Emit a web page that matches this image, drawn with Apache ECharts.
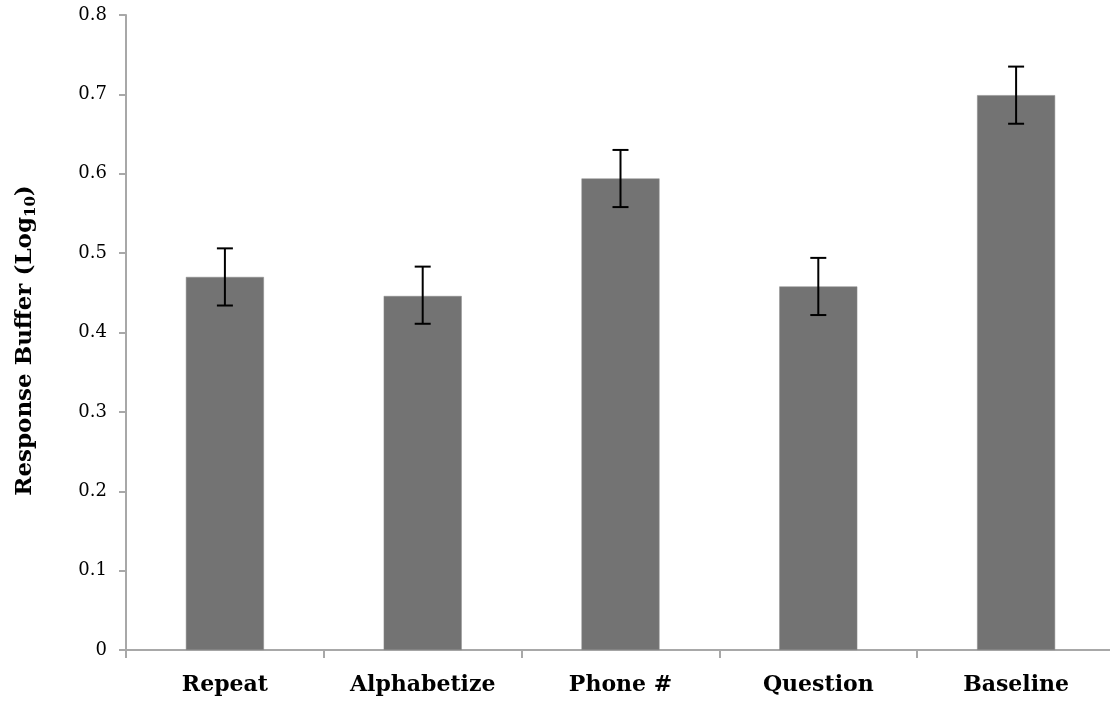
<!DOCTYPE html>
<html>
<head>
<meta charset="utf-8">
<script src="https://cdn.jsdelivr.net/npm/echarts@6/dist/echarts.min.js"></script>
<style>
  html, body { margin: 0; padding: 0; background: #ffffff; }
  #chart { width: 1110px; height: 702px; }
</style>
</head>
<body>
<div id="chart"></div>
<script>
// Task conditions and mean response buffer (log10), with error bar limits
const categories = ['Repeat', 'Alphabetize', 'Phone #', 'Question', 'Baseline'];
const means = [0.470, 0.446, 0.594, 0.458, 0.699];
const errLow = [0.434, 0.411, 0.558, 0.422, 0.663];
const errHigh = [0.506, 0.483, 0.630, 0.494, 0.735];
const yTicks = [0, 0.1, 0.2, 0.3, 0.4, 0.5, 0.6, 0.7, 0.8];

const serif = '"DejaVu Serif", "Liberation Serif", serif';
const axisGray = '#a8a8a8';

const chart = echarts.init(document.getElementById('chart'), null, { renderer: 'canvas' });

const errorData = categories.map((c, i) => [i, errLow[i], errHigh[i]]);

chart.setOption({
  animation: false,
  backgroundColor: '#ffffff',
  // plot area runs slightly past the right edge of the canvas
  grid: {
    left: 126, width: 989, top: 15, bottom: 52,
    containLabel: false,
    outerBoundsMode: 'none'
  },
  xAxis: {
    type: 'category',
    data: categories,
    axisLine: { lineStyle: { color: axisGray, width: 2 } },
    axisTick: { show: true, length: 8, lineStyle: { color: axisGray, width: 2 } },
    axisLabel: {
      color: '#000000',
      fontFamily: serif,
      fontWeight: 'bold',
      fontSize: 22,
      margin: 24
    }
  },
  yAxis: {
    type: 'value',
    min: yTicks[0],
    max: yTicks[yTicks.length - 1],
    interval: 0.1,
    splitLine: { show: false },
    axisLine: { show: true, lineStyle: { color: axisGray, width: 2 } },
    axisTick: { show: true, length: 7, lineStyle: { color: axisGray, width: 2 } },
    axisLabel: {
      color: '#000000',
      fontFamily: serif,
      fontSize: 18,
      margin: 19,
      formatter: v => (v === 0 ? '0' : v.toFixed(1))
    },
    name: '{t|Response Buffer (Log}{s|10}{t|)}',
    nameLocation: 'middle',
    nameGap: 87,
    nameRotate: 90,
    nameTextStyle: {
      padding: [0, 16, 0, 0],
      rich: {
        t: { fontFamily: serif, fontWeight: 'bold', fontSize: 23, color: '#000000' },
        s: { fontFamily: serif, fontWeight: 'bold', fontSize: 15, color: '#000000', padding: [12, 0, 0, 0] }
      }
    }
  },
  series: [
    {
      type: 'bar',
      data: means,
      barWidth: 78,
      itemStyle: { color: '#737373', borderColor: '#8a8a8a', borderWidth: 0.5 },
      z: 2
    },
    {
      type: 'custom',
      data: errorData,
      z: 5,
      renderItem: function (params, api) {
        const x = api.value(0);
        const lo = api.coord([x, api.value(1)]);
        const hi = api.coord([x, api.value(2)]);
        const half = 8;
        const style = { stroke: '#000000', lineWidth: 2 };
        return {
          type: 'group',
          children: [
            { type: 'line', shape: { x1: hi[0], y1: hi[1], x2: lo[0], y2: lo[1] }, style },
            { type: 'line', shape: { x1: hi[0] - half, y1: hi[1], x2: hi[0] + half, y2: hi[1] }, style },
            { type: 'line', shape: { x1: lo[0] - half, y1: lo[1], x2: lo[0] + half, y2: lo[1] }, style }
          ]
        };
      }
    }
  ]
});
</script>
</body>
</html>
